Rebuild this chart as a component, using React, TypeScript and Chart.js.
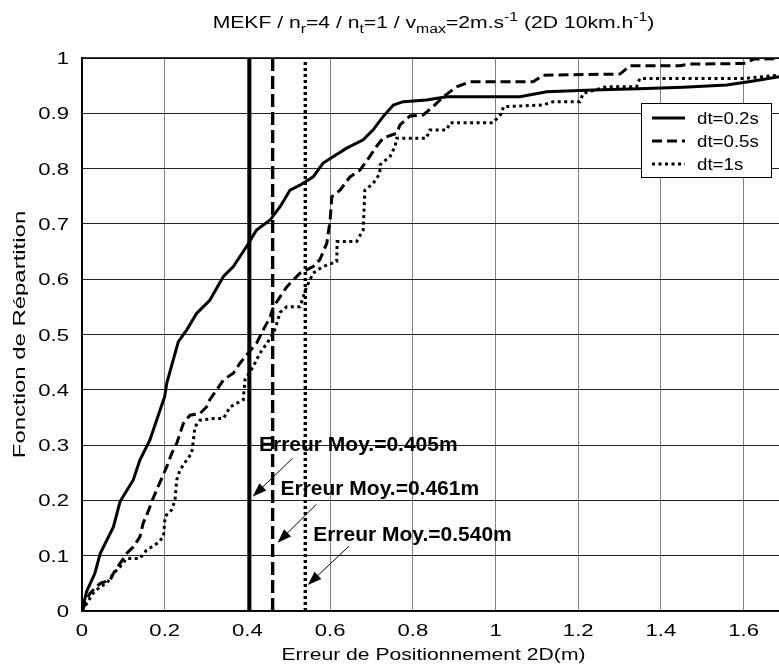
import React, { useEffect, useRef } from "react";
import { Chart, registerables } from "chart.js";

Chart.register(...registerables);

// ---------------- data ----------------
const seriesLabels = ["dt=0.2s", "dt=0.5s", "dt=1s"];
const meanErrors = [0.405, 0.461, 0.54];
const annotationLabels = ["Erreur Moy.=0.405m", "Erreur Moy.=0.461m", "Erreur Moy.=0.540m"];

const errX02 = [0, 0.011, 0.031, 0.044, 0.076, 0.092, 0.124, 0.14, 0.164, 0.2, 0.205, 0.233, 0.253, 0.277, 0.309, 0.342, 0.366, 0.382, 0.398, 0.422, 0.455, 0.479, 0.503, 0.527, 0.559, 0.583, 0.608, 0.64, 0.68, 0.704, 0.728, 0.753, 0.777, 0.833, 0.882, 1.059, 1.124, 1.236, 1.365, 1.454, 1.559, 1.62, 1.7];
const cdf02 = [0, 0.035, 0.068, 0.104, 0.152, 0.198, 0.237, 0.273, 0.309, 0.388, 0.412, 0.487, 0.508, 0.538, 0.562, 0.605, 0.623, 0.641, 0.659, 0.689, 0.707, 0.731, 0.761, 0.77, 0.785, 0.81, 0.822, 0.837, 0.852, 0.87, 0.894, 0.915, 0.921, 0.924, 0.93, 0.93, 0.939, 0.942, 0.945, 0.947, 0.951, 0.958, 0.968];

const errX05 = [0, 0.019, 0.044, 0.068, 0.076, 0.092, 0.108, 0.124, 0.14, 0.148, 0.16, 0.172, 0.184, 0.205, 0.217, 0.229, 0.237, 0.245, 0.261, 0.285, 0.301, 0.309, 0.326, 0.342, 0.366, 0.382, 0.398, 0.422, 0.438, 0.455, 0.463, 0.479, 0.495, 0.527, 0.559, 0.575, 0.592, 0.6, 0.604, 0.624, 0.648, 0.672, 0.696, 0.712, 0.728, 0.761, 0.769, 0.793, 0.825, 0.849, 0.874, 0.906, 0.938, 1.091, 1.115, 1.301, 1.325, 1.446, 1.47, 1.6, 1.625, 1.7];
const cdf05 = [0, 0.032, 0.05, 0.056, 0.068, 0.086, 0.104, 0.116, 0.134, 0.159, 0.18, 0.204, 0.225, 0.261, 0.285, 0.303, 0.321, 0.339, 0.354, 0.357, 0.369, 0.382, 0.4, 0.418, 0.43, 0.448, 0.463, 0.484, 0.508, 0.532, 0.55, 0.568, 0.586, 0.611, 0.623, 0.635, 0.665, 0.707, 0.749, 0.761, 0.785, 0.797, 0.822, 0.84, 0.855, 0.864, 0.879, 0.895, 0.897, 0.912, 0.93, 0.948, 0.957, 0.957, 0.969, 0.971, 0.986, 0.986, 0.989, 0.99, 0.998, 0.999];

const errX1 = [0, 0.027, 0.044, 0.06, 0.076, 0.092, 0.108, 0.14, 0.156, 0.181, 0.197, 0.201, 0.217, 0.225, 0.229, 0.237, 0.253, 0.265, 0.269, 0.273, 0.285, 0.317, 0.342, 0.358, 0.39, 0.394, 0.414, 0.43, 0.447, 0.463, 0.471, 0.479, 0.487, 0.495, 0.527, 0.535, 0.543, 0.559, 0.583, 0.616, 0.617, 0.664, 0.68, 0.684, 0.704, 0.72, 0.721, 0.745, 0.757, 0.761, 0.833, 0.841, 0.882, 0.89, 0.994, 1.015, 1.019, 1.115, 1.14, 1.204, 1.212, 1.268, 1.341, 1.349, 1.6, 1.7];
const cdf1 = [0, 0.032, 0.044, 0.05, 0.068, 0.08, 0.095, 0.095, 0.11, 0.122, 0.134, 0.171, 0.183, 0.201, 0.237, 0.255, 0.273, 0.285, 0.306, 0.333, 0.345, 0.348, 0.348, 0.369, 0.382, 0.418, 0.442, 0.466, 0.484, 0.502, 0.52, 0.54, 0.545, 0.55, 0.55, 0.568, 0.586, 0.611, 0.623, 0.632, 0.668, 0.668, 0.689, 0.761, 0.773, 0.791, 0.807, 0.822, 0.84, 0.855, 0.855, 0.87, 0.87, 0.883, 0.883, 0.9, 0.912, 0.915, 0.921, 0.921, 0.936, 0.948, 0.948, 0.963, 0.963, 0.97];

const xAxisMin = 0;
const xAxisMax = 1.7;
const xTickStep = 0.2;
const yAxisMin = 0;
const yAxisMax = 1;
const yTickStep = 0.1;

const titleParts: [string, number][] = [
  ["MEKF / n", 0], ["r", -1], ["=4 / n", 0], ["t", -1], ["=1 / v", 0], ["max", -1],
  ["=2m.s", 0], ["-1", 1], [" (2D 10km.h", 0], ["-1", 1], [")", 0],
];
const xAxisTitle = "Erreur de Positionnement 2D(m)";
const yAxisTitle = "Fonction de Répartition";

// annotation anchors in data coordinates
const annTextAt: [number, number][] = [[0.428, 0.29], [0.48, 0.21], [0.559, 0.127]];
const arrowTail: [number, number][] = [[0.509, 0.276], [0.567, 0.193], [0.646, 0.1175]];
const arrowTip: [number, number][] = [[0.413, 0.207], [0.473, 0.1235], [0.546, 0.047]];

// ---------------- styles ----------------
const FONT = '"Liberation Sans", Arial, Helvetica, sans-serif';
const dashes = [[], [10, 5], [3, 3.5]];
const meanDashes = [[], [13, 5], [3, 3]];

function drawText(
  ctx: CanvasRenderingContext2D, text: string, x: number, y: number,
  font: string, sx: number, align: "left" | "center" | "right" = "left"
) {
  ctx.save();
  ctx.font = font;
  ctx.textAlign = "left";
  ctx.textBaseline = "alphabetic";
  ctx.fillStyle = "#000";
  const w = ctx.measureText(text).width * sx;
  let x0 = x;
  if (align === "center") x0 = x - w / 2;
  else if (align === "right") x0 = x - w;
  ctx.translate(x0, y);
  ctx.scale(sx, 1);
  ctx.fillText(text, 0, 0);
  ctx.restore();
  return w;
}

function drawArrow(ctx: CanvasRenderingContext2D, x1: number, y1: number, x2: number, y2: number) {
  const a = Math.atan2(y2 - y1, x2 - x1);
  const L = 14, W = 5;
  ctx.save();
  ctx.setLineDash([]);
  ctx.strokeStyle = "#000";
  ctx.fillStyle = "#000";
  ctx.lineWidth = 1;
  ctx.beginPath();
  ctx.moveTo(x1, y1);
  ctx.lineTo(x2 - L * 0.8 * Math.cos(a), y2 - L * 0.8 * Math.sin(a));
  ctx.stroke();
  ctx.beginPath();
  ctx.moveTo(x2, y2);
  ctx.lineTo(x2 - L * Math.cos(a) + W * Math.sin(a), y2 - L * Math.sin(a) - W * Math.cos(a));
  ctx.lineTo(x2 - L * Math.cos(a) - W * Math.sin(a), y2 - L * Math.sin(a) + W * Math.cos(a));
  ctx.closePath();
  ctx.fill();
  ctx.restore();
}

const fmt = (v: number) => String(Number(v.toFixed(2)));

const decorPlugin = {
  id: "decor",
  afterDatasetsDraw(chart: any) {
    const { ctx, chartArea: ca, scales } = chart;
    const xs = scales.x, ys = scales.y;
    annotationLabels.forEach((label, i) => {
      drawText(ctx, label, xs.getPixelForValue(annTextAt[i][0]), ys.getPixelForValue(annTextAt[i][1]),
        `bold 21px ${FONT}`, 1, "left");
      drawArrow(ctx,
        xs.getPixelForValue(arrowTail[i][0]), ys.getPixelForValue(arrowTail[i][1]),
        xs.getPixelForValue(arrowTip[i][0]), ys.getPixelForValue(arrowTip[i][1]));
    });
    const lx = ca.right - 144, ly = ca.top + 45, lw = 130, lh = 74;
    ctx.save();
    ctx.fillStyle = "#fff";
    ctx.fillRect(lx, ly, lw, lh);
    ctx.strokeStyle = "#000";
    ctx.lineWidth = 1;
    ctx.setLineDash([]);
    ctx.strokeRect(lx + 0.5, ly + 0.5, lw, lh);
    seriesLabels.forEach((label, i) => {
      const ry = ly + 15 + i * 23;
      ctx.save();
      ctx.strokeStyle = "#000";
      ctx.lineWidth = 3;
      ctx.setLineDash(dashes[i]);
      ctx.beginPath();
      ctx.moveTo(lx + 11, ry);
      ctx.lineTo(lx + 44, ry);
      ctx.stroke();
      ctx.restore();
      drawText(ctx, label, lx + 56, ry + 6, `17px ${FONT}`, 1.1, "left");
    });
    ctx.restore();
  },
  afterDraw(chart: any) {
    const { ctx, chartArea: ca, scales } = chart;
    const xs = scales.x, ys = scales.y;
    ctx.save();
    ctx.strokeStyle = "#000";
    ctx.lineWidth = 1.5;
    ctx.beginPath();
    ctx.moveTo(ca.left, ca.top);
    ctx.lineTo(ca.right, ca.top);
    ctx.stroke();
    ctx.restore();
    xs.ticks.forEach((t: any) => {
      drawText(ctx, fmt(t.value), xs.getPixelForValue(t.value), ca.bottom + 25, `17px ${FONT}`, 1.3, "center");
    });
    ys.ticks.forEach((t: any) => {
      drawText(ctx, fmt(t.value), ca.left - 13, ys.getPixelForValue(t.value) + 6, `17px ${FONT}`, 1.3, "right");
    });
    const cx = (ca.left + ca.right) / 2;
    drawText(ctx, xAxisTitle, cx, ca.bottom + 49, `16px ${FONT}`, 1.32, "center");
    ctx.save();
    ctx.translate(25, (ca.top + ca.bottom) / 2);
    ctx.rotate(-Math.PI / 2);
    drawText(ctx, yAxisTitle, 0, 0, `16.5px ${FONT}`, 1.45, "center");
    ctx.restore();
    const sx = 1.32;
    ctx.save();
    let total = 0;
    titleParts.forEach(([s, k]) => {
      ctx.font = k === 0 ? `16px ${FONT}` : `12px ${FONT}`;
      total += ctx.measureText(s).width * sx;
    });
    ctx.restore();
    let x = cx - total / 2;
    const base = 28;
    titleParts.forEach(([s, k]) => {
      const font = k === 0 ? `16px ${FONT}` : `12px ${FONT}`;
      const dy = k === -1 ? 5 : k === 1 ? -7 : 0;
      x += drawText(ctx, s, x, base + dy, font, sx, "left");
    });
  },
};

const toPoints = (xs: number[], ys: number[]) => xs.map((x, i) => ({ x, y: ys[i] }));

export default function App() {
  const ref = useRef<HTMLCanvasElement>(null);
  useEffect(() => {
    const curves = [toPoints(errX02, cdf02), toPoints(errX05, cdf05), toPoints(errX1, cdf1)];
    const datasets: any[] = curves.map((data, i) => ({
      label: seriesLabels[i],
      data,
      borderColor: "#000",
      borderWidth: 3,
      borderDash: dashes[i],
      pointRadius: 0,
      fill: false,
      tension: 0,
    }));
    meanErrors.forEach((m, i) => {
      datasets.push({
        label: annotationLabels[i],
        data: [{ x: m, y: yAxisMin }, { x: m, y: yAxisMax }],
        borderColor: "#000",
        borderWidth: i === 0 ? 3.8 : 3.4,
        borderDash: meanDashes[i],
        pointRadius: 0,
        fill: false,
      });
    });
    const chart = new Chart(ref.current!, {
      type: "line",
      data: { datasets },
      options: {
        animation: false,
        responsive: false,
        devicePixelRatio: 1,
        layout: { padding: { top: 58, right: 15, left: 0, bottom: 0 } },
        plugins: { legend: { display: false }, title: { display: false }, tooltip: { enabled: false } },
        scales: {
          x: {
            type: "linear", min: xAxisMin, max: xAxisMax,
            ticks: { display: false, stepSize: xTickStep, includeBounds: false },
            grid: { color: "#808080", lineWidth: 1, drawTicks: false },
            border: { color: "#000", width: 1.5 },
            afterFit: (s: any) => { s.height = 55; },
          },
          y: {
            type: "linear", min: yAxisMin, max: yAxisMax,
            ticks: { display: false, stepSize: yTickStep },
            grid: { color: "#222", lineWidth: 1, drawTicks: false },
            border: { color: "#000", width: 2 },
            afterFit: (s: any) => { s.width = 82; },
          },
        },
      } as any,
      plugins: [decorPlugin],
    });
    return () => chart.destroy();
  }, []);
  return (
    <div style={{ position: "fixed", left: 0, top: 0, width: 779, height: 666, overflow: "hidden", background: "#fff" }}>
      <canvas ref={ref} width={800} height={666} style={{ display: "block", width: "800px", height: "666px" }} />
    </div>
  );
}
